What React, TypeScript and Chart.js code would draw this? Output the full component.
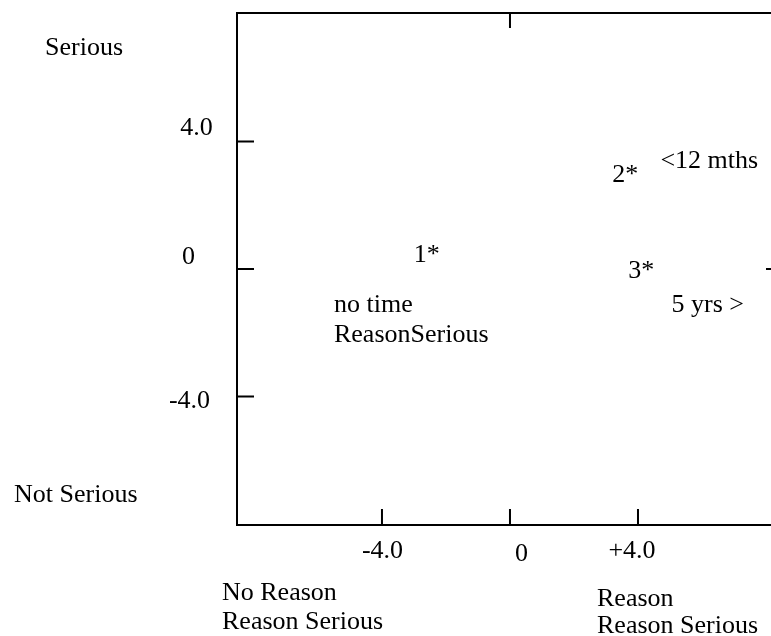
import React, { useEffect, useRef } from "react";
import { Chart, registerables } from "chart.js";

Chart.register(...registerables);

// ---- data ----
const pointLabels = ["1*", "2*", "3*"];
const pointX = [-2.6, 3.6, 4.1];
const pointY = [0.5, 3.0, 0.0];

const noteTexts = ["<12 mths", "5 yrs >", "no time", "ReasonSerious"];
const noteX = [4.7, 5.05, -5.5, -5.5];
const noteY = [3.45, -1.07, -1.07, -2.0];

const xTicks = [-4, 0, 4];
const xTickLabels = ["-4.0", "0", "+4.0"];
const yTicks = [4, 0, -4];
const yTickLabels = ["4.0", "0", "-4.0"];

const yEndLabels = ["Serious", "Not Serious"];
const yEndValues = [7, -7];
const xEndLabelsLeft = ["No Reason", "Reason Serious"];
const xEndLabelsRight = ["Reason", "Reason Serious"];

const FONT = "26px 'Liberation Serif', 'Times New Roman', serif";
const TEXT_SHIFT = 2;

const drawPlugin = {
  id: "mapDraw",
  afterDatasetsDraw(chart: any) {
    const ctx = chart.ctx;
    const xs = chart.scales.x;
    const ys = chart.scales.y;
    const a = chart.chartArea;
    ctx.save();
    ctx.strokeStyle = "#000";
    ctx.fillStyle = "#000";
    ctx.lineWidth = 2;
    // frame
    ctx.strokeRect(a.left, a.top, a.right - a.left, a.bottom - a.top);
    // ticks
    ctx.beginPath();
    yTicks.forEach((v) => {
      const py = ys.getPixelForValue(v);
      ctx.moveTo(a.left, py);
      ctx.lineTo(a.left + 17, py);
    });
    xTicks.forEach((v) => {
      const px = xs.getPixelForValue(v);
      ctx.moveTo(px, a.bottom);
      ctx.lineTo(px, a.bottom - 16);
    });
    const x0 = xs.getPixelForValue(0);
    ctx.moveTo(x0, a.top);
    ctx.lineTo(x0, a.top + 15);
    const y0 = ys.getPixelForValue(0);
    ctx.moveTo(a.right, y0);
    ctx.lineTo(a.right - 16, y0);
    ctx.stroke();

    ctx.font = FONT;
    ctx.textBaseline = "middle";
    ctx.translate(0, TEXT_SHIFT);
    // y tick labels
    const yDx = [-40.5, -48.5, -47.5];
    const yDy = [-15, -14, 3];
    ctx.textAlign = "center";
    yTicks.forEach((v, i) => {
      ctx.fillText(yTickLabels[i], a.left + yDx[i], ys.getPixelForValue(v) + yDy[i]);
    });
    // x tick labels
    const xDx = [0.5, 11.5, -6];
    const xDy = [24, 27, 24];
    xTicks.forEach((v, i) => {
      ctx.fillText(xTickLabels[i], xs.getPixelForValue(v) + xDx[i], a.bottom + xDy[i]);
    });
    // point labels
    const meta = chart.getDatasetMeta(0);
    meta.data.forEach((el: any, i: number) => {
      ctx.fillText(pointLabels[i], el.x, el.y);
    });
    // notes
    ctx.textAlign = "left";
    noteTexts.forEach((t, i) => {
      ctx.fillText(t, xs.getPixelForValue(noteX[i]), ys.getPixelForValue(noteY[i]));
    });
    // end labels on y side
    ctx.fillText(yEndLabels[0], 45, ys.getPixelForValue(yEndValues[0]));
    ctx.fillText(yEndLabels[1], 14, ys.getPixelForValue(yEndValues[1]) + 1);
    // end labels below x axis
    ctx.fillText(xEndLabelsLeft[0], 222, a.bottom + 66);
    ctx.fillText(xEndLabelsLeft[1], 222, a.bottom + 95);
    ctx.fillText(xEndLabelsRight[0], 597, a.bottom + 72);
    ctx.fillText(xEndLabelsRight[1], 597, a.bottom + 99);
    ctx.restore();
  },
};

export default function App() {
  const ref = useRef<HTMLCanvasElement>(null);
  useEffect(() => {
    if (!ref.current) return;
    const chart = new Chart(ref.current, {
      type: "scatter",
      data: {
        datasets: [
          {
            data: pointX.map((x, i) => ({ x, y: pointY[i] })),
            pointRadius: 0,
            pointHoverRadius: 0,
            showLine: false,
          },
        ],
      },
      options: {
        responsive: false,
        animation: false,
        events: [],
        layout: { padding: { left: 237, top: 13, right: 18, bottom: 111 } },
        plugins: { legend: { display: false }, tooltip: { enabled: false } },
        scales: {
          x: {
            type: "linear",
            min: -8.53,
            max: 8.5,
            grid: { display: false },
            border: { display: false },
            ticks: { display: false },
            afterFit: (s: any) => {
              s.height = 0;
            },
          },
          y: {
            type: "linear",
            min: -8.03,
            max: 8.03,
            grid: { display: false },
            border: { display: false },
            ticks: { display: false },
            afterFit: (s: any) => {
              s.width = 0;
            },
          },
        },
      },
      plugins: [drawPlugin],
    } as any);
    return () => chart.destroy();
  }, []);
  return (
    <div
      style={{
        position: "fixed",
        left: 0,
        top: 0,
        width: 771,
        height: 636,
        overflow: "hidden",
        background: "#fff",
      }}
    >
      <canvas ref={ref} width={800} height={636} style={{ display: "block" }} />
    </div>
  );
}
